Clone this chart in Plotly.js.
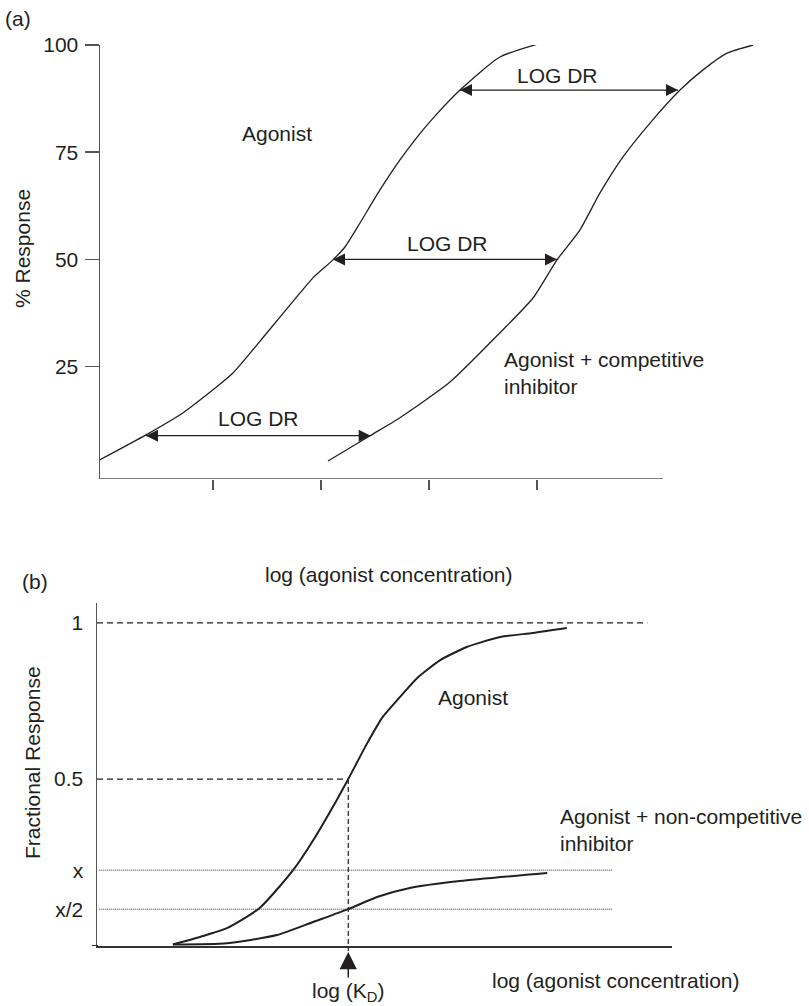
<!DOCTYPE html>
<html>
<head>
<meta charset="utf-8">
<script src="https://cdn.plot.ly/plotly-3.0.1.min.js"></script>
<style>html,body{margin:0;padding:0;background:#fff;}#chart{width:809px;height:1006px;}</style>
</head>
<body>
<div id="chart"></div>
<script>
// ---------- Panel (a) data ----------
const aAgonistX = [-0.046, 0.38, 0.72, 1.0, 1.185, 1.5, 1.806, 1.926, 2.111, 2.222, 2.361, 2.546, 2.731, 2.87, 3.04, 3.287, 3.657, 4.074];
const aAgonistY = [3.3, 9.1, 14.2, 19.6, 23.5, 32.9, 42.2, 45.7, 49.9, 52.9, 58.5, 66.2, 73.2, 77.9, 83.0, 89.5, 97.2, 100.7];
const aCompX = [2.065, 2.454, 2.731, 3.194, 3.657, 3.963, 4.185, 4.398, 4.583, 4.796, 5.046, 5.324, 5.537, 5.759, 6.0];
const aCompY = [3.0, 8.9, 13.1, 21.4, 32.9, 41.0, 49.9, 56.9, 65.5, 73.9, 81.8, 89.5, 94.2, 98.1, 100.0];
const aTickVals = [25, 50, 75, 100];
const aTickText = ['25', '50', '75', '100'];
const aXTicks = [1, 2, 3, 4];
// dose-ratio arrows: level, left end (agonist), right end (agonist + inhibitor)
const drLevel = [8.9, 50, 89.5];
const drLeft = [0.38, 2.111, 3.287];
const drRight = [2.46, 4.185, 5.305];
const drLabel = ['LOG DR', 'LOG DR', 'LOG DR'];

// ---------- Panel (b) data ----------
const bAgonistX = [1.32, 1.79, 2.26, 2.83, 3.41, 3.76, 4.17, 4.37, 4.70, 4.97, 5.27, 5.57, 5.97, 6.43, 7.01, 7.58, 8.17];
const bAgonistY = [-0.03, -0.006, 0.022, 0.087, 0.208, 0.304, 0.433, 0.5, 0.615, 0.699, 0.763, 0.824, 0.881, 0.923, 0.955, 0.968, 0.984];
const bNonCompX = [1.32, 2.26, 3.13, 3.76, 4.37, 4.87, 5.44, 6.31, 7.83];
const bNonCompY = [-0.03, -0.026, 0.0, 0.042, 0.083, 0.122, 0.151, 0.173, 0.199];
const bTickVals = [1, 0.5, 0.208, 0.083];
const bTickText = ['1', '0.5', 'x', 'x/2'];
const kdX = 4.37;
const fullLineX = [0, 9.57];
const guideX = [0.03, 8.97];

const INK = '#231f20';
const AXIS = '#555555';
const FONT = 'Liberation Sans, Arial, Helvetica, sans-serif';

const aXRange = [-0.046, 6.157];
const aYRange = [-1.2, 100];
const aAxisEnd = 5.167;
const bXRange = [0, 10];
const bYRange = [-0.035, 1.064];

const W = 809, H = 1006;
const px = v => v / W;
const py = v => 1 - v / H;

const traces = [
  {x: aAgonistX, y: aAgonistY, xaxis: 'x', yaxis: 'y', mode: 'lines', line: {color: INK, width: 1.3, shape: 'spline', smoothing: 0.6}, hoverinfo: 'skip'},
  {x: aCompX, y: aCompY, xaxis: 'x', yaxis: 'y', mode: 'lines', line: {color: INK, width: 1.3, shape: 'spline', smoothing: 0.6}, hoverinfo: 'skip'},
  // panel b guide lines
  {x: fullLineX, y: [bTickVals[0], bTickVals[0]], xaxis: 'x2', yaxis: 'y2', mode: 'lines', line: {color: INK, width: 1.2, dash: '6px,4px'}, hoverinfo: 'skip'},
  {x: [0, kdX], y: [bTickVals[1], bTickVals[1]], xaxis: 'x2', yaxis: 'y2', mode: 'lines', line: {color: INK, width: 1.2, dash: '6px,4px'}, hoverinfo: 'skip'},
  {x: [kdX, kdX], y: [bTickVals[1], bYRange[0]], xaxis: 'x2', yaxis: 'y2', mode: 'lines', line: {color: INK, width: 1.2, dash: '5px,3px'}, hoverinfo: 'skip'},
  {x: guideX, y: [bTickVals[2], bTickVals[2]], xaxis: 'x2', yaxis: 'y2', mode: 'lines', line: {color: '#333', width: 1, dash: '1px,1px'}, hoverinfo: 'skip'},
  {x: guideX, y: [bTickVals[3], bTickVals[3]], xaxis: 'x2', yaxis: 'y2', mode: 'lines', line: {color: '#333', width: 1, dash: '1px,1px'}, hoverinfo: 'skip'},
  {x: bAgonistX, y: bAgonistY, xaxis: 'x2', yaxis: 'y2', mode: 'lines', line: {color: INK, width: 2, shape: 'spline', smoothing: 0.6}, hoverinfo: 'skip'},
  {x: bNonCompX, y: bNonCompY, xaxis: 'x2', yaxis: 'y2', mode: 'lines', line: {color: INK, width: 2, shape: 'spline', smoothing: 0.6}, hoverinfo: 'skip'}
];
// double-headed LOG DR arrows
for (let i = 0; i < drLevel.length; i++) {
  traces.push({x: [drLeft[i], drRight[i]], y: [drLevel[i], drLevel[i]], xaxis: 'x', yaxis: 'y',
    mode: 'lines+markers', line: {color: INK, width: 1.2},
    marker: {symbol: ['arrow-left', 'arrow-right'], size: 12, color: INK, line: {width: 0}},
    cliponaxis: false, hoverinfo: 'skip'});
}

const txt = (text, x, y, extra) => Object.assign({text: text, x: x, y: y, showarrow: false, xanchor: 'center', yanchor: 'middle',
  font: {family: FONT, size: 21, color: INK}}, extra || {});

const annotations = [
  txt('(a)', px(18), py(18), {xref: 'paper', yref: 'paper'}),
  txt('(b)', px(35), py(581), {xref: 'paper', yref: 'paper'}),
  txt('% Response', px(22), py(249), {xref: 'paper', yref: 'paper', textangle: -90}),
  txt('log (agonist concentration)', px(388), py(574), {xref: 'paper', yref: 'paper'}),
  txt('Fractional Response', px(32), py(763), {xref: 'paper', yref: 'paper', textangle: -90}),
  txt('log (agonist concentration)', px(615), py(980), {xref: 'paper', yref: 'paper'}),
  txt('Agonist', 1.59, 79.3, {xref: 'x', yref: 'y'}),
  txt('Agonist + competitive<br>inhibitor', 3.676, 23.4, {xref: 'x', yref: 'y', xanchor: 'left', align: 'left'}),
  txt(drLabel[0], 1.417, 12.8, {xref: 'x', yref: 'y'}),
  txt(drLabel[1], 3.167, 53.8, {xref: 'x', yref: 'y'}),
  txt(drLabel[2], 4.194, 93.0, {xref: 'x', yref: 'y'}),
  txt('Agonist', 6.54, 0.76, {xref: 'x2', yref: 'y2'}),
  txt('Agonist + non-competitive<br>inhibitor', 8.02, 0.337, {xref: 'x2', yref: 'y2', xanchor: 'left', align: 'left'}),
  {text: 'log (K<sub>D</sub>)', x: kdX, y: py(952), xref: 'x2', yref: 'paper', showarrow: true, ax: 0, ay: 40,
   arrowhead: 2, arrowsize: 2.3, arrowwidth: 1.5, arrowcolor: INK, standoff: 0,
   font: {family: FONT, size: 21, color: INK}}
];

const layout = {
  width: W, height: H,
  margin: {l: 0, r: 0, t: 0, b: 0},
  paper_bgcolor: '#fff', plot_bgcolor: '#fff',
  showlegend: false,
  font: {family: FONT, size: 21, color: INK},
  xaxis: {domain: [px(100), px(770)], range: aXRange, anchor: 'y', showline: false, showgrid: false, zeroline: false,
          tickvals: aXTicks, showticklabels: false, ticks: 'outside', ticklen: 10, tickwidth: 1.5, tickcolor: AXIS},
  yaxis: {domain: [py(479), py(45)], range: aYRange, anchor: 'x', showline: true, linecolor: AXIS, linewidth: 1.5,
          showgrid: false, zeroline: false, tickvals: aTickVals, ticktext: aTickText, ticks: 'outside', ticklen: 14,
          tickwidth: 1.5, tickcolor: AXIS, ticklabelstandoff: 2, tickfont: {family: FONT, size: 21, color: INK}},
  xaxis2: {domain: [px(97), px(672)], range: bXRange, anchor: 'y2', showline: true, linecolor: '#333', linewidth: 2,
           showgrid: false, zeroline: false, showticklabels: false, ticks: ''},
  yaxis2: {domain: [py(946), py(603)], range: bYRange, anchor: 'x2', showline: true, linecolor: AXIS, linewidth: 1.5,
           showgrid: false, zeroline: false, tickvals: bTickVals, ticktext: bTickText, ticks: '',
           ticklabelstandoff: 8, tickfont: {family: FONT, size: 21, color: INK}},
  shapes: [
    {type: 'line', xref: 'x', yref: 'y', x0: aXRange[0], x1: aAxisEnd, y0: aYRange[0], y1: aYRange[0],
     line: {color: AXIS, width: 1.5}},
    {type: 'line', xref: 'paper', yref: 'y2', x0: px(92), x1: px(98), y0: bYRange[0], y1: bYRange[0],
     line: {color: '#333', width: 2}},
    {type: 'line', xref: 'x2', yref: 'paper', x0: kdX, x1: kdX, y0: py(946), y1: py(953),
     line: {color: INK, width: 1.2, dash: '5px,3px'}}
  ],
  annotations: annotations
};

Plotly.newPlot('chart', traces, layout, {staticPlot: true, displayModeBar: false});
</script>
</body>
</html>
